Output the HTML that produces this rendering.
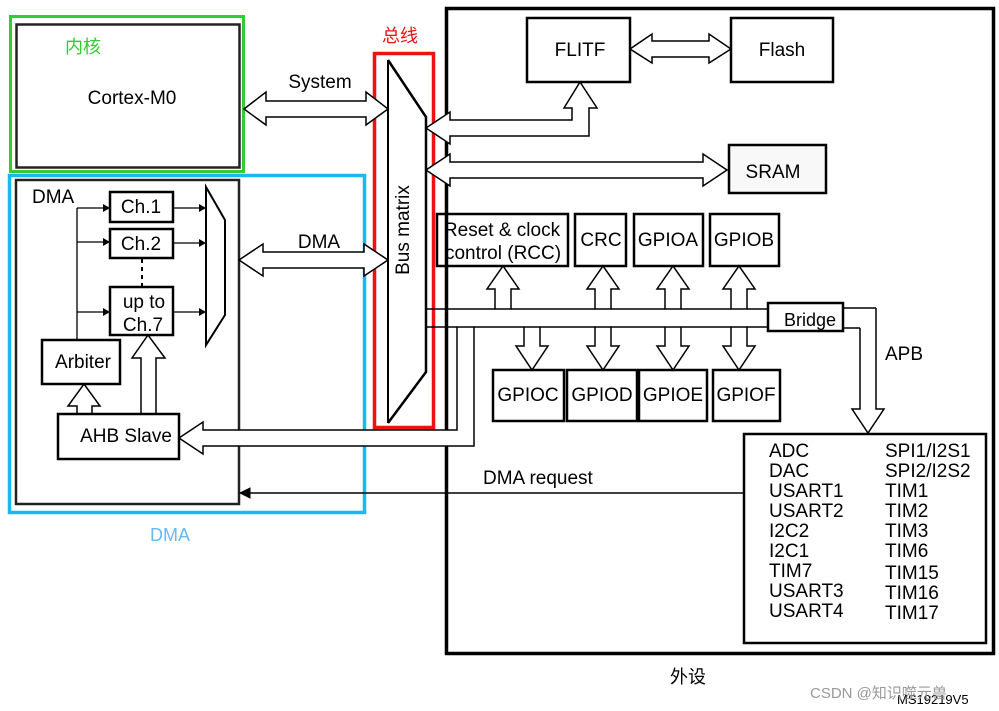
<!DOCTYPE html>
<html><head><meta charset="utf-8"><style>
html,body{margin:0;padding:0;background:#fff}
svg{display:block}
text{font-family:"Liberation Sans","Noto Sans CJK SC",sans-serif;font-size:19px;fill:#000}
</style></head><body>
<svg width="999" height="711" viewBox="0 0 999 711" xmlns="http://www.w3.org/2000/svg">
<g fill="none" stroke="#000">
<rect x="10.5" y="16.5" width="233" height="155" stroke="#33cc33" stroke-width="3"/>
<rect x="16.5" y="24.5" width="223" height="143" stroke="#222" stroke-width="2.5"/>
<rect x="9.5" y="175.5" width="355" height="337" stroke="#1ab8f0" stroke-width="3.5"/>
<rect x="16" y="180" width="223" height="324" stroke="#222" stroke-width="2.5"/>
<rect x="374.5" y="53.5" width="59" height="374" stroke="#ee1111" stroke-width="3.5"/>
<polyline points="388,60 426,117 426,372 388,423" stroke-width="2.5"/>
<line x1="388" y1="60" x2="388" y2="423" stroke-width="2"/>
<rect x="446.5" y="8.5" width="547" height="645" stroke-width="3.5"/>
<rect x="527" y="18" width="103" height="64" stroke-width="2.5"/>
<rect x="731" y="18" width="102" height="64" stroke-width="2.5"/>
<rect x="729" y="145" width="97" height="48" stroke-width="2.5" fill="#f8f8f8"/>
<rect x="437" y="214" width="131" height="52" stroke-width="2.5"/>
<rect x="575" y="214" width="51" height="52" stroke-width="2.5"/>
<rect x="634" y="214" width="69" height="52" stroke-width="2.5"/>
<rect x="710" y="214" width="69" height="52" stroke-width="2.5"/>
<rect x="493" y="370" width="71" height="51" stroke-width="2.5"/>
<rect x="567" y="370" width="70" height="51" stroke-width="2.5"/>
<rect x="639" y="370" width="68" height="51" stroke-width="2.5"/>
<rect x="713" y="370" width="67" height="51" stroke-width="2.5"/>
<rect x="768" y="303" width="75" height="28" stroke-width="2.5"/>
<rect x="744" y="434" width="242" height="209" stroke-width="2.5"/>
<g stroke-width="1.5" fill="#fff">
<polygon points="244,109 266,92 266,101 366,101 366,92 388,109 366,125 366,117 266,117 266,125"/>
<polygon points="239,260 263,244 263,252 364,252 364,244 388,260 364,276 364,268 263,268 263,276"/>
<polygon points="630,49 652,34 652,41 709,41 709,34 731,49 709,63 709,57 652,57 652,63"/>
<polygon points="426,170 450,154 450,162 703,162 703,154 727,170 703,186 703,178 450,178 450,186"/>
<polygon points="426,128 450,112 450,120 572,120 572,108 564,108 580,82 597,108 589,108 589,136 450,136 450,144"/>
<polygon points="495,309 495,289 487,289 503,266 519,289 511,289 511,309"/>
<polygon points="595,309 595,289 587,289 603,266 619,289 611,289 611,309"/>
<polygon points="665,309 665,289 657,289 673,266 689,289 681,289 681,309"/>
<polygon points="731,309 731,289 723,289 739,266 755,289 747,289 747,309"/>
<polygon points="524,327 524,346 516,346 532,370 548,346 540,346 540,327"/>
<polygon points="595,327 595,346 587,346 603,370 619,346 611,346 611,327"/>
<polygon points="665,327 665,346 657,346 673,370 689,346 681,346 681,327"/>
<polygon points="731,327 731,346 723,346 739,370 755,346 747,346 747,327"/>
<polygon points="179,438 203,422 203,430 457,430 457,327 474,327 474,446 203,446 203,454"/>
<polygon points="77,414 77,406 68,406 84,384 100,406 92,406 92,414"/>
<polygon points="141,414 141,358 132,358 148,335 165,358 156,358 156,414"/>
</g>
<polyline points="860,328 860,409 852,409 868,433 884,409 876,409 876,308" stroke-width="1.5"/>
<g stroke-width="1.5">
<polyline points="426,309 495,309"/><polyline points="511,309 595,309"/><polyline points="611,309 665,309"/>
<polyline points="681,309 731,309"/><polyline points="747,309 768,309"/>
<polyline points="426,327 457,327"/>
<polyline points="474,327 524,327"/><polyline points="540,327 595,327"/><polyline points="611,327 665,327"/>
<polyline points="681,327 731,327"/><polyline points="747,327 768,327"/>
<polyline points="843,308 876,308"/><polyline points="843,328 860,328"/>
<line x1="744" y1="493" x2="248" y2="493"/>
</g>
<polygon points="240,493 250,488 250,498" fill="#000"/>
<rect x="110" y="192" width="63" height="30" stroke-width="2.5"/>
<rect x="110" y="229" width="63" height="29" stroke-width="2.5"/>
<rect x="110" y="287" width="63" height="48" stroke-width="2.5"/>
<rect x="42" y="340" width="78" height="44" stroke-width="2.5"/>
<rect x="58" y="414" width="121" height="45" stroke-width="2.5"/>
<line x1="142" y1="259" x2="142" y2="287" stroke-width="2" stroke-dasharray="4,4"/>
<polygon points="206,187 225,220 225,315 206,345" stroke-width="2"/>
<g stroke-width="1.3">
<line x1="77" y1="208" x2="77" y2="340"/>
<line x1="77" y1="208" x2="104" y2="208"/><line x1="77" y1="242" x2="104" y2="242"/><line x1="77" y1="312" x2="104" y2="312"/>
<line x1="173" y1="208" x2="200" y2="208"/><line x1="173" y1="243" x2="200" y2="243"/><line x1="173" y1="312" x2="200" y2="312"/>
</g>
</g>
<g fill="#000">
<polygon points="110,208 103,204 103,212"/><polygon points="110,242 103,238 103,246"/><polygon points="110,312 103,308 103,316"/>
<polygon points="206,208 199,204 199,212"/><polygon points="206,243 199,239 199,247"/><polygon points="206,312 199,308 199,316"/>
</g>
<text x="65" y="53" style="fill:#33cc33;font-size:18px">内核</text>
<text x="132" y="104" text-anchor="middle">Cortex-M0</text>
<text x="320" y="88" text-anchor="middle">System</text>
<text x="400" y="42" text-anchor="middle" style="fill:#ee1111;font-size:18px">总线</text>
<text x="319" y="248" text-anchor="middle">DMA</text>
<text x="32" y="203">DMA</text>
<text x="141" y="213" text-anchor="middle">Ch.1</text>
<text x="141" y="250" text-anchor="middle">Ch.2</text>
<text x="144" y="308" text-anchor="middle">up to</text>
<text x="143" y="331" text-anchor="middle">Ch.7</text>
<text x="83" y="368" text-anchor="middle">Arbiter</text>
<text x="126" y="442" text-anchor="middle">AHB Slave</text>
<text x="170" y="541" text-anchor="middle" style="fill:#66bbee;font-size:18px">DMA</text>
<text transform="translate(409,230) rotate(-90)" text-anchor="middle">Bus matrix</text>
<text x="580" y="56" text-anchor="middle">FLITF</text>
<text x="782" y="56" text-anchor="middle">Flash</text>
<text x="773" y="178" text-anchor="middle">SRAM</text>
<text x="502" y="236" text-anchor="middle">Reset &amp; clock</text>
<text x="503" y="259" text-anchor="middle">control (RCC)</text>
<text x="601" y="246" text-anchor="middle">CRC</text>
<text x="668" y="246" text-anchor="middle">GPIOA</text>
<text x="744" y="246" text-anchor="middle">GPIOB</text>
<text x="528" y="401" text-anchor="middle">GPIOC</text>
<text x="602" y="401" text-anchor="middle">GPIOD</text>
<text x="673" y="401" text-anchor="middle">GPIOE</text>
<text x="746" y="401" text-anchor="middle">GPIOF</text>
<text x="810" y="326" text-anchor="middle" style="font-size:18px">Bridge</text>
<text x="885" y="360">APB</text>
<text x="483" y="484">DMA request</text>
<g>
<text x="769" y="457">ADC</text><text x="769" y="477">DAC</text><text x="769" y="497">USART1</text>
<text x="769" y="517">USART2</text><text x="769" y="537">I2C2</text><text x="769" y="557">I2C1</text>
<text x="769" y="577">TIM7</text><text x="769" y="597">USART3</text><text x="769" y="617">USART4</text>
<text x="885" y="457">SPI1/I2S1</text><text x="885" y="477">SPI2/I2S2</text><text x="885" y="497">TIM1</text>
<text x="885" y="517">TIM2</text><text x="885" y="537">TIM3</text><text x="885" y="557">TIM6</text>
<text x="885" y="579">TIM15</text><text x="885" y="599">TIM16</text><text x="885" y="619">TIM17</text>
</g>
<text x="688" y="683" text-anchor="middle" style="font-size:18px">外设</text>
<text x="897" y="704" style="font-size:13px">MS19219V5</text>
<text x="810" y="698" style="font-size:15px;fill:#999">CSDN @知识噬元兽</text>
</svg>
</body></html>
